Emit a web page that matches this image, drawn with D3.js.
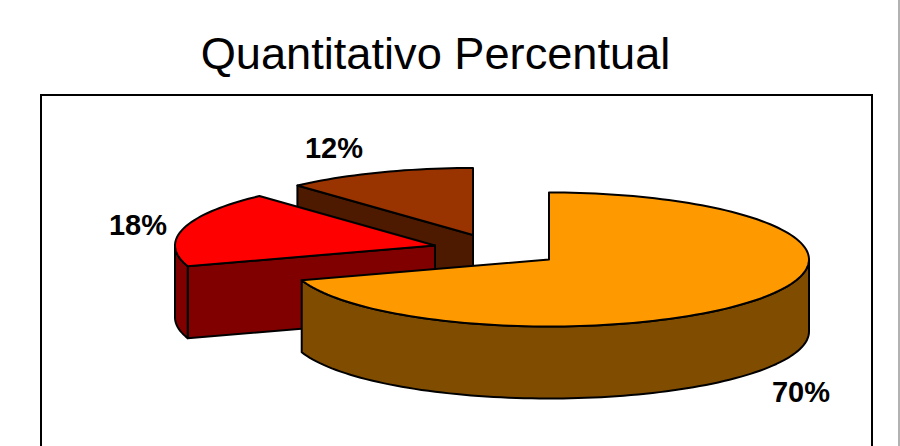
<!DOCTYPE html>
<html><head><meta charset="utf-8">
<script src="https://cdn.jsdelivr.net/npm/d3@7"></script>
<style>html,body{margin:0;padding:0;background:#fff}svg{display:block}text{font-family:"Liberation Sans",Arial,sans-serif;fill:#000}</style>
</head><body><svg id="c" width="900" height="446"></svg>
<script>
const title = "Quantitativo Percentual";
const categories = ["A", "B", "C"];
const seriesValues = [70, 18.2, 11.8];
const valueLabels = ["70%", "18%", "12%"];
const topColors = ["#FF9900", "#FF0000", "#993300"];
const sideColors = ["#804D00", "#800000", "#4D1A00"];

const svg = d3.select("#c");
const RX = 260, RY = 67, DEPTH = 72;
// exploded centre of each slice, and where its label sits
const centres = [[549, 259.5], [435, 245.5], [473, 235]];
const labelPos = [[801, 402], [138, 235], [334, 158]];
const drawOrder = [2, 1, 0];

svg.append("rect").attr("x", 41).attr("y", 95).attr("width", 831).attr("height", 400)
  .attr("fill", "#fff").attr("stroke", "#000").attr("stroke-width", 2);
svg.append("line").attr("x1", 899).attr("x2", 899).attr("y1", 0).attr("y2", 446)
  .attr("stroke", "#999").attr("stroke-width", 1.5);

svg.append("text").attr("x", 435.5).attr("y", 69).attr("text-anchor", "middle")
  .attr("font-size", 45.2).text(title);

const arcs = d3.pie().sort(null).startAngle(0).endAngle(2 * Math.PI)(seriesValues);
const line = d3.line();
const rim = (c, a, dy = 0) => [c[0] + RX * Math.sin(a), c[1] - RY * Math.cos(a) + dy];
const samples = (a0, a1) => {
  const n = Math.max(2, Math.ceil((a1 - a0) / 0.03));
  return d3.range(n + 1).map(i => a0 + (a1 - a0) * i / n);
};
const style = (sel, fill) => sel.attr("fill", fill).attr("stroke", "#000")
  .attr("stroke-width", 2).attr("stroke-linejoin", "round");

drawOrder.forEach(i => {
  const d = arcs[i], c = centres[i], g = svg.append("g").attr("class", "slice");
  // cut faces facing the viewer
  [[d.startAngle, Math.sin(d.startAngle) < -1e-6], [d.endAngle, Math.sin(d.endAngle) > 1e-6]]
    .filter(f => f[1]).forEach(([a]) => {
      style(g.append("path"), sideColors[i]).attr("d", line([
        c, rim(c, a), rim(c, a, DEPTH), [c[0], c[1] + DEPTH]
      ]) + "Z");
    });
  // outer wall: front half of the ellipse only
  const a0 = Math.max(d.startAngle, Math.PI / 2), a1 = Math.min(d.endAngle, 3 * Math.PI / 2);
  if (a1 > a0) {
    const s = samples(a0, a1);
    style(g.append("path"), sideColors[i]).attr("d", line([
      ...s.map(a => rim(c, a)), ...s.slice().reverse().map(a => rim(c, a, DEPTH))
    ]) + "Z");
  }
  // top face
  style(g.append("path"), topColors[i]).attr("d", line([
    c, ...samples(d.startAngle, d.endAngle).map(a => rim(c, a))
  ]) + "Z");
});

svg.selectAll("text.val").data(valueLabels).join("text").attr("class", "val")
  .attr("x", (d, i) => labelPos[i][0]).attr("y", (d, i) => labelPos[i][1])
  .attr("text-anchor", "middle").attr("font-size", 29).attr("font-weight", "bold").text(d => d);
</script></body></html>
